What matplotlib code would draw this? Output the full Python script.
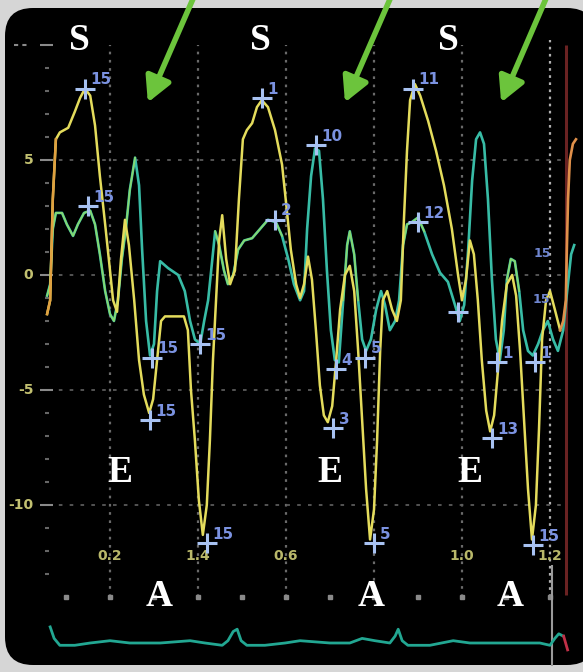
import matplotlib
matplotlib.use("Agg")
import matplotlib.pyplot as plt
from matplotlib.patches import FancyBboxPatch

# velocity traces (time s, velocity cm/s)
yellow_t = [0.057, 0.064, 0.070, 0.077, 0.086, 0.105, 0.120, 0.132, 0.143, 0.155,
            0.166, 0.177, 0.189, 0.200, 0.207, 0.216, 0.225, 0.234, 0.243, 0.255,
            0.266, 0.277, 0.289, 0.298, 0.307, 0.316, 0.325, 0.368, 0.377, 0.384,
            0.393, 0.402, 0.411, 0.420, 0.427, 0.434, 0.441, 0.448, 0.455, 0.464,
            0.473, 0.484, 0.493, 0.502, 0.511, 0.523, 0.534, 0.545, 0.559, 0.575,
            0.591, 0.602, 0.611, 0.623, 0.632, 0.641, 0.650, 0.659, 0.668, 0.677,
            0.686, 0.695, 0.705, 0.714, 0.723, 0.734, 0.745, 0.755, 0.764, 0.773,
            0.782, 0.791, 0.800, 0.807, 0.814, 0.820, 0.830, 0.841, 0.852, 0.861,
            0.868, 0.875, 0.882, 0.893, 0.905, 0.923, 0.941, 0.959, 0.977, 0.991,
            1.000, 1.009, 1.018, 1.027, 1.036, 1.045, 1.055, 1.064, 1.073, 1.082,
            1.091, 1.102, 1.114, 1.123, 1.132, 1.141, 1.150, 1.159, 1.168, 1.175,
            1.182, 1.191, 1.200, 1.211, 1.223]
yellow_v = [-1.7, -1.1, 3.3, 5.9, 6.2, 6.4, 7.1, 7.7, 8.1, 7.8,
            6.5, 4.3, 2.2, 0.2, -1.1, -1.6, 0.7, 2.4, 1.3, -1.1,
            -3.7, -5.2, -6.0, -5.4, -3.7, -2.0, -1.8, -1.8, -2.4, -5.0,
            -7.2, -9.8, -11.3, -10.0, -7.2, -3.7, -1.1, 1.5, 2.6, 0.7,
            -0.4, 0.2, 3.3, 5.9, 6.3, 6.6, 7.3, 7.6, 7.3, 6.3,
            4.8, 2.8, 1.1, -0.4, -1.0, -0.4, 0.8, -0.2, -2.4, -4.8,
            -6.1, -6.4, -5.7, -3.7, -1.5, 0.0, 0.4, -0.7, -3.3, -6.3,
            -9.3, -11.5, -10.2, -7.2, -3.3, -1.1, -0.7, -1.5, -2.0, -1.1,
            2.4, 5.4, 7.6, 8.3, 7.8, 6.7, 5.4, 3.9, 2.0, 0.0,
            -1.1, -0.2, 1.5, 0.9, -1.1, -3.7, -5.9, -6.8, -6.1, -4.1,
            -2.0, -0.4, 0.0, -0.9, -3.3, -6.3, -9.3, -11.5, -10.0, -6.7,
            -2.8, -1.1, -0.7, -1.5, -2.4]

orange_t = [1.223, 1.230, 1.236, 1.238, 1.241, 1.245, 1.252, 1.259]
orange_v = [-2.4, -2.0, -1.1, 0.9, 3.3, 5.0, 5.7, 5.9]

teal_t = [0.057, 0.064, 0.070, 0.077, 0.091, 0.102, 0.116, 0.127, 0.141, 0.155,
          0.166, 0.177, 0.189, 0.200, 0.209, 0.218, 0.227, 0.236, 0.245, 0.257,
          0.266, 0.273, 0.282, 0.291, 0.300, 0.307, 0.314, 0.332, 0.355, 0.370,
          0.382, 0.393, 0.405, 0.414, 0.423, 0.430, 0.439, 0.448, 0.459, 0.468,
          0.480, 0.491, 0.505, 0.523, 0.541, 0.559, 0.577, 0.591, 0.605, 0.618,
          0.632, 0.641, 0.648, 0.657, 0.666, 0.675, 0.684, 0.693, 0.702, 0.711,
          0.720, 0.730, 0.739, 0.745, 0.755, 0.764, 0.773, 0.782, 0.793, 0.805,
          0.816, 0.825, 0.836, 0.848, 0.857, 0.866, 0.875, 0.886, 0.900, 0.914,
          0.932, 0.950, 0.968, 0.984, 0.995, 1.005, 1.014, 1.023, 1.032, 1.041,
          1.050, 1.059, 1.068, 1.077, 1.086, 1.095, 1.102, 1.111, 1.120, 1.130,
          1.139, 1.150, 1.161, 1.173, 1.184, 1.195, 1.207, 1.218, 1.230, 1.239,
          1.248, 1.255]
teal_v = [-0.9, -0.4, 2.0, 2.7, 2.7, 2.2, 1.7, 2.2, 2.7, 2.8,
          2.2, 0.9, -0.7, -1.7, -2.0, -1.1, 0.7, 2.0, 3.7, 5.1,
          3.9, 1.1, -2.0, -3.5, -3.0, -0.7, 0.6, 0.3, 0.0, -0.7,
          -2.0, -2.8, -3.0, -2.0, -1.1, 0.2, 1.9, 1.3, 0.2, -0.4,
          0.0, 1.1, 1.5, 1.6, 2.0, 2.4, 2.3, 1.7, 0.7, -0.4,
          -1.1, -0.7, 2.0, 4.3, 5.5, 5.4, 3.3, 0.2, -2.4, -3.7,
          -3.8, -1.1, 1.3, 1.9, 0.9, -1.1, -2.8, -3.3, -2.8, -1.5,
          -0.7, -1.3, -2.4, -2.0, -1.1, 1.3, 2.2, 2.3, 2.5, 1.9,
          0.9, 0.1, -0.3, -1.3, -2.0, -1.3, 1.1, 4.1, 5.9, 6.2,
          5.7, 3.3, -0.2, -2.8, -3.7, -2.4, -0.2, 0.7, 0.6, -0.7,
          -2.4, -3.3, -3.5, -3.0, -2.4, -2.0, -2.8, -3.3, -2.4, -0.7,
          0.9, 1.3]

# ECG trace along the bottom
ecg_t = [0.064, 0.073, 0.086, 0.120, 0.155, 0.200, 0.245, 0.314, 0.382, 0.416,
         0.455, 0.468, 0.480, 0.489, 0.498, 0.511, 0.552, 0.598, 0.632, 0.700,
         0.745, 0.773, 0.802, 0.836, 0.848, 0.855, 0.864, 0.877, 0.927, 0.980,
         1.018, 1.086, 1.132, 1.177, 1.200, 1.211, 1.220, 1.230]
ecg_v = [-15.3, -15.8, -16.1, -16.1, -16.0, -15.9, -16.0, -16.0, -15.9, -16.0,
         -16.1, -15.9, -15.5, -15.4, -15.9, -16.1, -16.1, -16.0, -15.9, -16.0,
         -16.0, -15.8, -15.9, -16.0, -15.7, -15.4, -15.9, -16.1, -16.1, -15.9,
         -16.0, -16.0, -16.0, -16.0, -16.1, -15.8, -15.6, -15.7]

# measurement cursors: time, velocity, label
mark_t = [0.143, 0.150, 0.295, 0.291, 0.405, 0.420, 0.545, 0.575, 0.668, 0.707,
          0.714, 0.780, 0.800, 0.889, 0.900, 1.068, 1.080, 1.166, 1.161, 0.991]
mark_v = [8.1, 3.0, -3.6, -6.3, -3.0, -11.65, 7.7, 2.4, 5.65, -6.65,
          -4.1, -3.6, -11.65, 8.1, 2.3, -7.1, -3.8, -3.8, -11.75, -1.6]
mark_lbl = ["15", "15", "15", "15", "15", "15", "1", "2", "10", "3",
            "4", "5", "5", "11", "12", "13", "1", "1", "15", ""]

x_ticks = [0.2, 0.4, 0.6, 1.0, 1.2]
x_tick_lbl = ["0.2", "1.4", "0.6", "1.0", "1.2"]
y_ticks = [5, 0, -5, -10]
y_tick_lbl = ["5", "0", "-5", "-10"]

wave_t = [0.130, 0.543, 0.970, 0.223, 0.700, 1.018, 0.311, 0.793, 1.109]
wave_v = [10.2, 10.2, 10.2, -8.6, -8.6, -8.6, -14.0, -14.0, -14.0]
wave_lbl = ["S", "S", "S", "E", "E", "E", "A", "A", "A"]

arrow_tip_t = [0.286, 0.734, 1.089]
arrow_tail_t = [0.393, 0.841, 1.195]
arrow_tip_v = 7.5
arrow_tail_v = 12.2

W, H = 583, 672
fig = plt.figure(figsize=(W / 100, H / 100), dpi=100)
fig.patch.set_facecolor("#d6d6d6")

panel = FancyBboxPatch((5 / W, 7 / H), 590 / W, 657 / H,
                       boxstyle="round,pad=0,rounding_size=0.048",
                       mutation_aspect=W / H, transform=fig.transFigure,
                       facecolor="black", edgecolor="none", zorder=-5)
fig.patches.append(panel)

ax = fig.add_axes([0, 0, 1, 1])
ax.set_zorder(1)
ax.set_xlim(-22 / 440, (W - 22) / 440)
ax.set_ylim((275 - H) / 23, 275 / 23)
ax.axis("off")

# dotted grid
for t in [0.2, 0.4, 0.6, 0.8, 1.0]:
    ax.vlines(t, -14.0, 10.0, colors="#6a6a6a", linestyles=(0, (1.2, 2.5)), lw=1.6, zorder=1)
ax.vlines(1.2, -14.0, 10.2, colors="#b0b0b0", linestyles=(0, (1.2, 2.0)), lw=1.6, zorder=1)
for v in y_ticks:
    ax.hlines(v, 0.06, 1.23, colors="#5a5a5a", linestyles=(0, (2, 4)), lw=1.3, zorder=1)

# y ruler marks
for v in range(-13, 11):
    if v % 5 == 0:
        ax.hlines(v, 0.040, 0.070, colors="#8a8a8a", lw=1.5, zorder=1)
    else:
        ax.hlines(v, 0.052, 0.062, colors="#666666", lw=1.5, zorder=1)
ax.hlines(10, -0.018, 0.015, colors="#8a8a8a", lw=1.5, linestyles=(0, (2, 2)), zorder=1)
# x ruler marks
for k in range(1, 13):
    ax.plot(k / 10, -14.0, marker="s", ms=2.2, color="#8a8a8a", zorder=1)

for t, lbl in zip(x_ticks, x_tick_lbl):
    ax.text(t, -12.2, lbl, color="#b9b86a", fontsize=10, fontweight="bold",
            ha="center", va="center", zorder=2)
for v, lbl in zip(y_ticks, y_tick_lbl):
    ax.text(0.026, v, lbl, color="#c2c070", fontsize=10, fontweight="bold",
            ha="right", va="center", zorder=2)

# right side cursors
ax.vlines(1.236, -13.9, 10.0, colors="#6a2222", lw=2.2, zorder=1)
ax.vlines(1.205, -17.0, -12.6, colors="#9a9a9a", lw=1.5, zorder=3)

# traces
ax.plot(teal_t, teal_v, color="#38bca6", lw=1.9, zorder=3)
for a, b in [(0, 20), (36, 48), (61, 66), (75, 80), (96, 100)]:
    ax.plot(teal_t[a:b], teal_v[a:b], color="#86d870", lw=1.3, zorder=4)
ax.plot(yellow_t, yellow_v, color="#e4dc5c", lw=1.8, zorder=5)
ax.plot(yellow_t[:4], yellow_v[:4], color="#e0a040", lw=1.8, zorder=5)
ax.plot(orange_t, orange_v, color="#e0904a", lw=1.9, zorder=5)
ax.plot(ecg_t, ecg_v, color="#22a792", lw=2.0, zorder=3)
ax.plot([1.231, 1.240], [-15.7, -16.3], color="#c03048", lw=2.0, zorder=3)

# cursors with labels
ax.plot(mark_t, mark_v, linestyle="none", marker="+", ms=15, mew=2.2,
        color="#a8c2f2", zorder=6)
for t, v, lbl in zip(mark_t, mark_v, mark_lbl):
    ax.annotate(lbl, (t, v), xytext=(4, 1), textcoords="offset points",
                color="#7b92e0", fontsize=11, fontweight="bold",
                ha="left", va="bottom", zorder=7)
ax.text(1.162, 0.8, "15", color="#6f86d0", fontsize=9, fontweight="bold", zorder=7)
ax.text(1.160, -1.2, "15", color="#6f86d0", fontsize=9, fontweight="bold", zorder=7)

# wave letters
for t, v, lbl in zip(wave_t, wave_v, wave_lbl):
    ax.text(t, v, lbl, color="white", fontsize=27, fontweight="bold",
            family="Liberation Serif", ha="center", va="center", zorder=8)

# green arrows
for tip, tail in zip(arrow_tip_t, arrow_tail_t):
    ax.annotate("", xy=(tip, arrow_tip_v), xytext=(tail, arrow_tail_v),
                arrowprops=dict(arrowstyle="-|>,head_width=0.8,head_length=1.5",
                                lw=4, color="#6cc43c", shrinkA=0, shrinkB=0),
                zorder=8)

fig.savefig("out.png", dpi=100, facecolor=fig.get_facecolor())
